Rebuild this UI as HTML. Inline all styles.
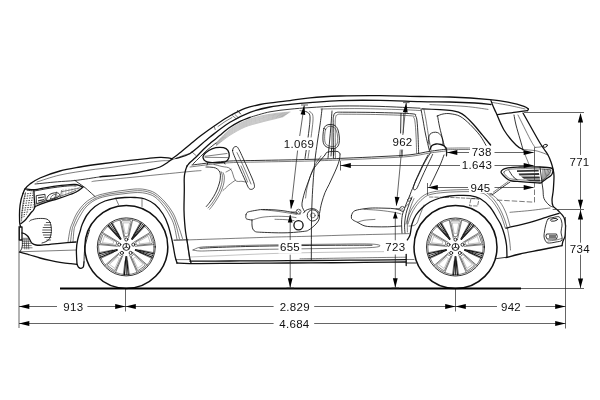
<!DOCTYPE html>
<html lang="de">
<head>
<meta charset="utf-8">
<title>Abmessungen</title>
<style>
html,body{margin:0;padding:0;background:#fff}
body{width:600px;height:400px;overflow:hidden}
svg{display:block;will-change:transform}
svg *{vector-effect:none}
.car path,.car circle,.car ellipse,.whl path,.whl circle{fill:none;stroke:#111;stroke-linecap:round;stroke-linejoin:round}
.b{stroke-width:1.3}
.whl .b{stroke-width:1.55}
.whl .sb{stroke-width:1.15}
.m{stroke-width:.85}
.t{stroke-width:.55}
.h{stroke-width:.35;stroke:#555 !important}
.fk{fill:#111 !important;stroke-width:.3}
.fw{fill:#fff !important}
.hm{stroke-width:.7}
.fg{fill:#777 !important;stroke:none !important}
.fd{fill:#333 !important;stroke:none !important}
.gd{stroke-width:.85;stroke-dasharray:1.5 1.1;stroke:#222 !important;stroke-linecap:butt !important}
.car .ds{stroke-width:.55;stroke-dasharray:3.5 1.8}
.d path,.d circle{fill:none;stroke:#222;stroke-width:.7}
.d .g{stroke:#000;stroke-width:1.9}
.d .ds{stroke-dasharray:5.5 2;stroke-width:.6}
.d .w{fill:#fff}
.a polygon{fill:#000;stroke:none}
.bg rect{fill:#fff;stroke:none}
.tx text{font-family:"Liberation Sans",sans-serif;font-size:11.5px;fill:#111;text-anchor:middle;letter-spacing:.3px}
</style>
</head>
<body>
<svg width="600" height="400" viewBox="0 0 600 400">
<rect width="600" height="400" fill="#fff"/>
<g class="car">
<path class="b" d="M23 193.5C23.3 192.8 23.8 190.6 25 189C26.2 187.4 27.5 185.8 30 184C32.5 182.2 35 180.2 40 178C45 175.8 53.3 172.8 60 171C66.7 169.2 73.3 168.2 80 167C86.7 165.8 91.7 165.1 100 164C108.3 162.9 121.7 161.3 130 160.3C138.3 159.3 145 158.7 150 158.2C155 157.7 157 157.5 160 157.4C163 157.3 166 157.6 168 157.8C170 158 171.3 158.6 172 158.8"/>
<path class="b" d="M172 158.8C173.5 157.7 178 154.4 181 152C184 149.6 186.8 147.1 190 144.5C193.2 141.9 195.8 139.5 200 136.3C204.2 133.1 210 128.9 215 125.5C220 122.1 225 118.6 230 115.8C235 113 240 110.3 245 108.4C250 106.5 255 105.5 260 104.5C265 103.5 270 103 275 102.3C280 101.6 284.2 101.3 290 100.6C295.8 99.8 301.7 98.6 310 97.8C318.3 97 328.3 96.4 340 96C351.7 95.6 366.7 95.5 380 95.6C393.3 95.7 408.3 96.3 420 96.5C431.7 96.7 438.3 96.5 450 97C461.7 97.5 480 98.7 490 99.6C500 100.5 504.3 101.5 510 102.6C515.7 103.7 521 105.3 524 106.3C527 107.3 527.3 108.2 528 108.6"/>
<path class="b" d="M528 108.6C528.1 108.8 528.5 109.3 528.4 109.6C528.3 109.9 527.6 110.4 527.4 110.6"/>
<path class="b" d="M527.4 110.6C525.8 110.8 521.2 111.4 518 111.8C514.8 112.2 511.4 112.7 508 113.2C504.6 113.7 499.2 114.4 497.5 114.6"/>
<path class="t" d="M492 102.4C495 102.9 504.5 104.5 510 105.6C515.5 106.7 522.5 108.4 525 109"/>
<path class="b" d="M176 158.5C178.3 157.7 184.3 157.1 190 153.5C195.7 149.9 203.3 142.2 210 137C216.7 131.8 223.3 126.4 230 122.3C236.7 118.2 243.3 114.8 250 112.3C256.7 109.8 263.3 108.3 270 107C276.7 105.7 283.3 105.1 290 104.4C296.7 103.7 301.7 103.2 310 102.6C318.3 102 328.3 101 340 100.6C351.7 100.2 366.7 100.2 380 100.4C393.3 100.6 408.3 101.3 420 101.6C431.7 101.9 440.8 101.8 450 102C459.2 102.2 468.2 102.6 475 103C481.8 103.4 488.3 104.2 491 104.5"/>
<path class="b" d="M187 166C187.6 165.3 189.2 163.3 190.5 162C191.8 160.7 193.4 159.5 195 158C196.6 156.5 198.3 154.7 200 153C201.7 151.3 203.3 149.6 205 148C206.7 146.4 207.5 145.7 210 143.6C212.5 141.5 216.7 137.9 220 135.2C223.3 132.5 226.7 129.6 230 127.3C233.3 125 236.7 123.1 240 121.4C243.3 119.7 248.3 118 250 117.3"/>
<path class="m" d="M250 117.3C253.3 116.4 263.3 113.1 270 111.8C276.7 110.5 283.3 109.9 290 109.2C296.7 108.5 301.7 108.1 310 107.6C318.3 107.1 328.3 106.2 340 106C351.7 105.8 366.7 106 380 106.4C393.3 106.8 413.3 107.9 420 108.2"/>
<path class="m" d="M193 164C193.8 163.2 196.3 160.7 198 159C199.7 157.3 201.2 155.8 203 154C204.8 152.2 206.8 150.3 209 148.5C211.2 146.7 214.8 143.9 216 143"/>
<path class="t" d="M218 126.5L225 121.6L232 117.5"/>
<path class="t" d="M214.4 127L215.2 129.6"/>
<path class="t" d="M232.5 115.6L236 118.6"/>
<path class="t" d="M235 114.6L238.2 117.6"/>
<path class="m" d="M237.6 110.6L240.6 114"/>
<path class="t" d="M192 152L196 155.5"/>
<path class="b" d="M491 100.6C491.3 101.5 492.2 104 493 106C493.8 108 494.2 108.6 496 112.6C497.8 116.6 500.7 124.6 504 130C507.3 135.4 512.8 141.8 516 145C519.2 148.2 521.8 148.8 523 149.5"/>
<path class="t" d="M523 150C523.5 151.2 525 154.6 526 157C527 159.4 528.5 163.2 529 164.5"/>
<path class="b" d="M523 113C524.5 115.7 529.2 124 532 129C534.8 134 538 139.7 540 143C542 146.3 542.7 147 544 149C545.3 151 546.8 152.8 548 155C549.2 157.2 550.2 159.7 551 162C551.8 164.3 552.5 166.7 553 169C553.5 171.3 554 172.5 554 176C554 179.5 553.6 186 553.3 190C553 194 552 197.3 552 200C552 202.7 552 204.2 553 206C554 207.8 556.2 208.6 558 210.5C559.8 212.4 562.7 214.9 564 217.5C565.3 220.1 565.3 224.6 565.6 226"/>
<path class="m" d="M514 115C514.3 116.7 515 121 516 125C517 129 518.8 134.9 520 139C521.2 143.1 522.5 147.8 523 149.5"/>
<path class="t" d="M518 115C520 119 527.2 133.6 530 139C532.8 144.4 534.2 146 535 147.4"/>
<path class="t" d="M523 149.5C525 149.7 531.8 150.1 535 150.6C538.2 151.1 539.8 151.9 542 152.6C544.2 153.3 547 154.6 548 155"/>
<path class="t" d="M535 147.4C535.8 147.3 538.6 147.2 540 147C541.4 146.8 542.9 146.2 543.5 146"/>
<ellipse class="m" cx="545.3" cy="145.8" rx="2.1" ry="1.4" transform="rotate(-20 545.3 145.8)"/>
<path class="b" d="M565.6 226C565.5 227.7 565.4 233.5 565 236C564.6 238.5 563.5 239.4 563 241C562.5 242.6 562.2 244.8 562 245.6"/>
<path class="b" d="M562 245.6C558.3 246.3 547 248.6 540 250C533 251.4 525.7 252.7 520 254C514.3 255.3 508.3 257 506 257.6"/>
<path class="b" d="M506 228.2C510 227.2 523.3 224.1 530 222.3C536.7 220.5 541.2 218.8 546 217.3C550.8 215.8 556.8 214 559 213.3"/>
<path class="t" d="M510 212.3C513.3 212 523.3 211.2 530 210.5C536.7 209.8 546.7 208.4 550 208"/>
<path class="m" d="M542 183C542.2 184.2 542.7 187.4 543 190C543.3 192.6 543 196 544 198.5C545 201 547.5 203.6 549 205C550.5 206.4 552.3 206.7 553 207"/>
<path class="m" d="M548 219C549.2 217.6 551.2 218 553 217.6C554.8 217.2 557.6 216.2 559 216.8C560.4 217.4 561 219.5 561.5 221C562 222.5 562.1 224.2 562 226C561.9 227.8 561 229.7 561 232C561 234.3 562.8 238.3 562 240C561.2 241.7 558.3 241.5 556 242C553.7 242.5 549.8 243.3 548 243C546.2 242.7 545.7 241.2 545 240C544.3 238.8 544.1 237.5 544 236C543.9 234.5 544.4 232.7 544.6 231C544.9 229.3 544.9 228 545.5 226C546.1 224 546.8 220.4 548 219Z"/>
<ellipse class="m" cx="554" cy="219.8" rx="3.6" ry="1.3" transform="rotate(-8 554 219.8)"/>
<path class="m" d="M547 234L556.5 234L557.3 236.5L556.5 239L547 239L546 236.5Z"/>
<path class="fg" d="M549 235L556 235L556 238L549 238Z"/>
<path class="t" d="M548 241C549.3 240.8 553.8 240.4 556 240C558.2 239.6 560.6 238.8 561.5 238.5"/>
<path class="b" d="M23 193.5C22.7 194.6 21.6 197.2 21 200C20.4 202.8 19.8 206.3 19.6 210C19.4 213.7 19.5 219.2 19.6 222C19.8 224.8 20.4 225.8 20.5 226.5"/>
<path class="b" d="M19.3 227L22 227L22 240L19.3 240Z"/>
<path class="b" d="M25 188.9C26.7 189 31.7 189.8 35 189.6C38.3 189.4 41.2 188.4 45 187.8C48.8 187.2 53.3 186.4 57.5 185.9C61.7 185.4 67.1 184.8 70 184.6C72.9 184.4 73.5 184.4 75 184.5C76.5 184.6 77.7 184.9 79 185.4C80.3 185.9 82.2 187 82.8 187.3"/>
<path class="m" d="M27 190.2C28.3 190.3 32 191 35 190.8C38 190.6 41.2 189.6 45 189C48.8 188.4 53.3 187.6 57.5 187.1C61.7 186.6 66.9 186 70 185.8C73.1 185.6 75 186 76 186"/>
<path class="b" d="M82.8 187.3C81.7 188.1 78.4 190.8 76.2 192C74.1 193.2 73.1 193.3 70 194.5C66.9 195.7 61.7 197.6 57.5 198.9C53.3 200.2 48.8 201.3 45 202.6C41.2 203.9 36.7 205.9 35 206.6"/>
<path class="b" d="M33.9 190.6C34 192 34.1 196.3 34.3 199C34.5 201.7 34.9 205.3 35 206.6"/>
<path class="t" d="M37 204.3C39.2 203.5 45.2 201.3 50 199.6C54.8 197.9 61.7 195.8 66 194.3C70.3 192.8 74.3 191.1 76 190.4"/>
<path class="m" d="M36.6 195.6L45 194.3L45.2 200.6L36.8 203.6Z"/>
<path class="fd" d="M38 197.3L44 196.4L44 197.6L38 198.5Z"/>
<path class="fd" d="M38 200.3L44 199L44 200.2L38 201.6Z"/>
<path class="m" d="M46.6 200.3C46.3 199.6 47.1 197.2 48 196C48.9 194.8 50.5 193.9 52 193.4C53.5 192.9 55.7 192.6 57 192.8C58.3 193 59.6 193.8 59.6 194.6C59.6 195.4 58.6 196.6 57 197.6C55.4 198.6 51.7 199.9 50 200.4C48.3 200.9 46.9 201 46.6 200.3Z"/>
<path class="t" d="M50.6 198.8C50.1 198.5 51.3 196.5 52 195.8C52.7 195.1 54.2 194.5 55 194.4C55.8 194.3 57 194.7 57 195.2C57 195.7 56.1 197 55 197.6C53.9 198.2 51.1 199.1 50.6 198.8Z"/>
<path class="t" d="M61.5 190.6L60.6 197"/>
<path class="t" d="M56.5 192L54.5 199"/>
<path class="h" d="M63 189.6L62.6 196"/>
<path class="h" d="M66 189.2L65.7 194.8"/>
<path class="h" d="M69 188.9L68.8 193.5"/>
<path class="h" d="M72 188.5L71.9 192.2"/>
<path class="h" d="M75 188.2L75 191"/>
<path class="h" d="M78 187.8L78.1 189.8"/>
<path class="t" d="M62 191.6C63.7 191.3 69 190.2 72 189.6C75 189 78.7 188.1 80 187.8"/>
<path class="m" d="M75 180.5C75.6 181 77.1 182.1 78.8 183.2C80.4 184.4 83.1 186.1 85 187.6C86.9 189.1 88.3 190.5 90 192C91.7 193.5 94.2 195.8 95 196.5"/>
<path class="t" d="M37 182C40.8 180.8 51.2 177 60 175C68.8 173 81.8 171.2 90 170C98.2 168.8 102.3 168.6 109 167.7C115.7 166.8 121.5 165.8 130 164.7C138.5 163.6 153.2 161.8 160 161C166.8 160.2 166.5 161.2 170.5 160.2C174.5 159.2 180.8 156.3 184 155.2C187.2 154.1 189 154 190 153.8"/>
<path class="m" d="M35 184C36.7 183.8 41.2 183.4 45 183C48.8 182.6 52.5 182.2 57.5 181.8C62.5 181.3 68.8 181.2 75 180.5C81.2 179.8 90.8 178.2 95 177.6C99.2 177 99.2 176.9 100 176.8"/>
<path class="b" d="M100 176.8C105 176.3 121.8 174.9 130 173.8C138.2 172.7 144.5 171.1 149.5 170C154.5 168.9 157 168.2 160 167C163 165.8 165.5 163.8 167.5 162.5C169.5 161.2 171.2 159.8 172 159.3"/>
<path class="t" d="M92 181.6C93.3 181.4 91.2 181.4 100 180.5C108.8 179.6 130 177.5 145 176C160 174.5 180.7 172.4 190 171.5C199.3 170.6 199.2 170.8 201 170.6"/>
<path class="b" d="M35 206.6C34.8 207.2 34.1 209 33.5 210C32.9 211 32.1 211.5 31.2 212.5C30.4 213.5 29.4 214.9 28.5 216C27.6 217.1 26.9 218.2 26 219.2C25.1 220.2 23.9 221.3 23 222C22.1 222.7 21.1 223.3 20.8 223.6"/>
<path class="t" d="M25.5 192.6C25.1 194.2 23.9 198.8 23.3 202C22.7 205.2 22.3 208.8 22 212C21.7 215.2 21.7 219.5 21.6 221"/>
<path class="gd" d="M24.6 194L33.2 193"/>
<path class="gd" d="M24.2 196.3L33.3 195.3"/>
<path class="gd" d="M23.8 198.7L33.4 197.7"/>
<path class="gd" d="M23.3 201.1L33.5 200.1"/>
<path class="gd" d="M22.9 203.4L33.6 202.4"/>
<path class="gd" d="M22.5 205.8L33.7 204.8"/>
<path class="gd" d="M22.1 208.1L33.5 207.1"/>
<path class="gd" d="M21.7 210.4L31.2 209.4"/>
<path class="gd" d="M21.2 212.8L29 211.8"/>
<path class="gd" d="M21 215.2L26.8 214.2"/>
<path class="gd" d="M21 217.5L24.5 216.5"/>
<path class="m" d="M29.5 221.4C29.8 221.2 29.8 220.5 31.3 220C32.8 219.5 35.7 218.6 38.3 218.5C40.9 218.4 45 218.3 47 219.2C49 220 49.8 221.5 50.5 223.6C51.2 225.7 51.5 229 51.4 231.5C51.2 234 50.5 236.8 49.6 238.5C48.7 240.2 47.3 240.8 46 241.6C44.7 242.3 42.7 242.8 42 243"/>
<path class="hm" d="M46.3 222.5L50.6 222.5"/>
<path class="hm" d="M44.5 225L50.9 225"/>
<path class="hm" d="M43.2 227.5L51.2 227.5"/>
<path class="hm" d="M42.7 230L51.3 230"/>
<path class="hm" d="M42.7 232.5L51.3 232.5"/>
<path class="hm" d="M43.4 235L51.1 235"/>
<path class="hm" d="M44.8 237.5L50.9 237.5"/>
<path class="hm" d="M46.8 240L50.5 240"/>
<path class="b" d="M22 233C22.5 233.2 24 233.4 25 234C26 234.6 27.2 235.5 28 236.5C28.8 237.5 29.3 238.9 30 240C30.7 241.1 31 242.4 32 243.2C33 244 34.3 244.7 36 245C37.7 245.3 39.7 245.3 42 245.2C44.3 245.1 47 244.6 50 244.3C53 244 55.7 243.7 60 243.3C64.3 242.9 73.3 242.2 76 242"/>
<path class="t" d="M22.3 239L29 239"/>
<path class="t" d="M22.3 241.2L29.8 241.2"/>
<path class="t" d="M22.3 243.4L30.5 243.4"/>
<path class="t" d="M22.3 245.6L31.3 245.6"/>
<path class="t" d="M22.3 247.8L32.1 247.8"/>
<path class="t" d="M24 238L24.8 249"/>
<path class="t" d="M26 238L26.8 249"/>
<path class="t" d="M28 238L28.8 249"/>
<path class="t" d="M19.5 251.8L76.5 250"/>
<path class="m" d="M22.3 240C22.3 241 22.5 244.3 22.3 246C22.1 247.7 21.4 249 21 250C20.6 251 19.8 251.7 19.6 252"/>
<path class="b" d="M19.6 252.2C21.3 252.7 26.6 254 30 255C33.4 256 36.7 257.1 40 258C43.3 258.9 46.7 259.7 50 260.4C53.3 261.1 56.7 261.8 60 262.3C63.3 262.8 67.2 263.3 70 263.6C72.8 263.9 75.8 264.2 77 264.3"/>
<path class="b" d="M77 264.3C76.9 261.9 76.3 254.1 76.4 250C76.5 245.9 76.9 243.3 77.6 240C78.3 236.7 79.8 232.5 80.5 230C81.2 227.5 80.9 227.5 82 225C83.1 222.5 84.8 218.1 87 215C89.2 211.9 92 208.8 95 206.5C98 204.2 101.7 202.3 105 201C108.3 199.7 111.7 199.1 115 198.5C118.3 197.9 121.7 197.7 125 197.5C128.3 197.3 131.7 197.2 135 197.5C138.3 197.8 141.7 197.8 145 199C148.3 200.2 152 202 155 204.5C158 207 160.8 210.6 163 214C165.2 217.4 166.5 220.7 168 225C169.5 229.3 170.8 234.8 172 240C173.2 245.2 174.2 252.2 175 256C175.8 259.8 176.7 261.8 177 263"/>
<path class="b" d="M77 264.3C77.2 264.8 77.8 266.6 78.5 267.3C79.2 268 80.2 268.4 81 268.3C81.8 268.2 82.8 268.1 83.3 267C83.8 265.9 83.9 262.8 84 262"/>
<path class="m" d="M84 262C84.1 260 84.2 253.7 84.6 250C85 246.3 85.8 243.3 86.6 240C87.4 236.7 89.1 231.7 89.6 230"/>
<path class="t" d="M68 242C68.3 240 69.3 233 70 230C70.7 227 70.8 226.8 72 224C73.2 221.2 74.8 216.5 77 213C79.2 209.5 82 205.8 85 203C88 200.2 91.7 198.1 95 196.5C98.3 194.9 101.7 194.3 105 193.5C108.3 192.7 111.7 192.2 115 191.6C118.3 191 121.7 190.6 125 190.2C128.3 189.8 131.7 189.1 135 189C138.3 188.9 141.7 188.8 145 189.5C148.3 190.2 151.7 190.9 155 193C158.3 195.1 162 198.7 165 202C168 205.3 170.8 209.2 173 213C175.2 216.8 176.4 220.8 178 225C179.6 229.2 181.8 236.2 182.5 238.5"/>
<path class="t" d="M70.5 242C70.8 240 71.5 232.8 72 230C72.5 227.2 72.5 227.5 73.5 225C74.5 222.5 76.1 218.2 78 215C79.9 211.8 82.2 208.2 85 205.5C87.8 202.8 91.7 200.2 95 198.5C98.3 196.8 101.7 195.9 105 195C108.3 194.1 111.7 193.7 115 193.2C118.3 192.7 121.7 192.4 125 192C128.3 191.6 131.7 190.9 135 190.8C138.3 190.7 141.7 190.5 145 191.2C148.3 191.9 151.7 192.8 155 195C158.3 197.2 162.2 201.2 165 204.5C167.8 207.8 170.2 211.6 172 215C173.8 218.4 174.8 221 176 225C177.2 229 178.9 236.7 179.5 239"/>
<path class="t" d="M73 242C73.2 240 73.6 232.8 74 230C74.4 227.2 74.5 227.3 75.5 225C76.5 222.7 78.2 219 80 216C81.8 213 83.5 209.7 86 207C88.5 204.3 91.8 201.8 95 200C98.2 198.2 101.7 197.4 105 196.5C108.3 195.6 111.7 195.3 115 194.8C118.3 194.3 121.7 194 125 193.6C128.3 193.2 131.7 192.7 135 192.6C138.3 192.5 141.7 192.5 145 193.2C148.3 193.9 151.8 194.8 155 197C158.2 199.2 161.5 203.3 164 206.5C166.5 209.7 168.3 212.9 170 216C171.7 219.1 172.8 221.1 174 225C175.2 228.9 176.5 237.1 177 239.5"/>
<path class="t" d="M116 199L118.5 204.5"/>
<path class="t" d="M142 199L142 206.5"/>
<path class="t" d="M174 240L188 239.6"/>
<path class="t" d="M175.6 259.6L189.6 259.6"/>
<path class="t" d="M187 240L189.6 259.6"/>
<path class="b" d="M187 166C186.8 166.7 186 168.5 185.6 170C185.2 171.5 184.7 173.3 184.5 175C184.3 176.7 184.2 177.5 184.2 180C184.2 182.5 184.3 185 184.3 190C184.3 195 183.9 204.7 184 210C184.1 215.3 184.3 218.3 184.6 222C184.9 225.7 185.1 228.5 185.6 232C186.1 235.5 186.7 238.8 187.4 243C188.1 247.2 189 253.7 189.6 257C190.2 260.3 190.8 262 191 263"/>
<path class="b" d="M177 263C179.2 263.1 181.2 263.5 190 263.6C198.8 263.7 216.7 263.5 230 263.4C243.3 263.3 256.5 263.2 270 263.1C283.5 263 297.7 263 311 262.9C324.3 262.8 336.8 262.7 350 262.6C363.2 262.5 380.7 262.3 390 262.2C399.3 262.1 403.3 262 406 262"/>
<path class="b" d="M190 261.2C196.7 261.2 216.7 261.1 230 261C243.3 260.9 256.5 260.9 270 260.8C283.5 260.7 297.7 260.6 311 260.5C324.3 260.4 336.8 260.3 350 260.2C363.2 260.1 380.7 259.9 390 259.8C399.3 259.7 403.3 259.6 406 259.6"/>
<path class="t" d="M300 258.8C308.3 258.7 335 258.2 350 258C365 257.8 380.7 257.5 390 257.4C399.3 257.3 403.3 257.2 406 257.2"/>
<path class="b" d="M406.2 254.5L406.2 265.5"/>
<path class="m" d="M406.3 263L416 263"/>
<path class="t" d="M406.3 259.5L414 259.5"/>
<path class="t" d="M174 240.4C180.8 240.2 199 239.5 215 239C231 238.5 254 237.7 270 237.2C286 236.7 297.7 236.6 311 236.2C324.3 235.8 338.5 235.3 350 235C361.5 234.7 370.2 234.5 380 234.3C389.8 234.1 404.2 233.7 409 233.6"/>
<path class="t" d="M193 250C194.2 249.6 196.3 247.9 200 247.3C203.7 246.7 206.7 246.7 215 246.4C223.3 246.1 237.5 245.6 250 245.3C262.5 245 276.7 244.8 290 244.6C303.3 244.4 316.7 244.3 330 244.2C343.3 244.1 361.7 243.7 370 244C378.3 244.3 380 245.2 380 245.8C380 246.4 378.3 247.2 370 247.6C361.7 248 343.3 248.2 330 248.4C316.7 248.6 303.3 248.8 290 249C276.7 249.2 262.5 249.3 250 249.6C237.5 249.9 223.3 250.4 215 250.6C206.7 250.8 203.7 251.1 200 251C196.3 250.9 194.2 250.2 193 250"/>
<path class="m" d="M200 248.3C202.5 248.2 206.7 247.8 215 247.5C223.3 247.2 237.5 246.7 250 246.4C262.5 246.1 276.7 245.9 290 245.7C303.3 245.5 316.3 245.4 330 245.3C343.7 245.2 365 245.2 372 245.2"/>
<path class="h" d="M190 257C196.7 256.7 216.7 255.9 230 255.3C243.3 254.7 256.5 254.1 270 253.6C283.5 253.1 297.7 252.9 311 252.6C324.3 252.3 336.8 252.2 350 252C363.2 251.8 380.7 251.7 390 251.6C399.3 251.5 403.3 251.6 406 251.6"/>
<path class="m" d="M322 109C321.7 111.7 320.8 119.5 320 125C319.2 130.5 318.2 136.2 317.4 142C316.6 147.8 315.7 153 315 160C314.3 167 313.6 174.8 313 184C312.4 193.2 311.9 202.2 311.6 215C311.3 227.8 311.4 252.9 311.3 260.5"/>
<path class="m" d="M192 165C197.5 164.4 213.7 162.1 225 161.3C236.3 160.5 245.8 160.7 260 160.4C274.2 160.1 295.8 159.8 310 159.4C324.2 159 333.3 158.7 345 158.2C356.7 157.7 369.2 157.2 380 156.6C390.8 156 401.7 155.7 410 154.8C418.3 153.9 424 152.2 430 151.3C436 150.4 443.3 149.5 446 149.2"/>
<path class="t" d="M190 167C195.8 166.3 213.3 163.8 225 163C236.7 162.2 245.8 162.3 260 162C274.2 161.7 295.8 161.4 310 161C324.2 160.6 333.3 160.3 345 159.8C356.7 159.3 369.2 158.8 380 158.2C390.8 157.6 401.7 157.3 410 156.4C418.3 155.5 424 153.9 430 153C436 152.1 443.3 151.3 446 151"/>
<path class="t" d="M446 148.2C448.3 148.2 456 148 460 148C464 148 468.3 148 470 148"/>
<path class="t" d="M446 149.7C448.3 149.7 456 149.5 460 149.5C464 149.5 468.3 149.5 470 149.5"/>
<path class="h" d="M216 143C218.3 140.7 225.2 132.9 230 129.2C234.8 125.6 240 123.2 245 121C250 118.8 255 117.5 260 116.2C265 115 270 114.2 275 113.5C280 112.8 287.5 112.2 290 112"/>
<path class="h" d="M216.1 143.4C218.4 141.2 225.2 133.8 230 130.2C234.8 126.7 240 124.2 245 122C250 119.8 255 118.5 260 117.2C265 116 270.2 115.1 275 114.4C279.8 113.6 286.5 113.1 288.8 112.8"/>
<path class="h" d="M216.2 143.8C218.5 141.7 225.2 134.7 230 131.2C234.8 127.8 240 125.2 245 123C250 120.8 255 119.6 260 118.3C265 117 270.4 116 275 115.2C279.6 114.5 285.6 113.9 287.7 113.6"/>
<path class="h" d="M216.2 144.2C218.5 142.2 225.2 135.6 230 132.2C234.8 128.9 240 126.2 245 124C250 121.8 255 120.7 260 119.3C265 118 270.6 117 275 116.1C279.4 115.3 284.6 114.7 286.5 114.4"/>
<path class="h" d="M216.3 144.7C218.6 142.8 225.2 136.5 230 133.2C234.8 130 240 127.1 245 125C250 122.9 255 121.7 260 120.4C265 119.1 270.8 117.9 275 117C279.2 116.1 283.6 115.5 285.3 115.2"/>
<path class="h" d="M216.4 145.1C218.7 143.3 225.2 137.4 230 134.2C234.8 131.1 240 128.1 245 126C250 123.9 255 122.8 260 121.5C265 120.1 271 118.8 275 117.9C279 117 282.6 116.3 284.2 116"/>
<path class="h" d="M216.5 145.5C218.8 143.8 225.2 138.3 230 135.2C234.8 132.2 240 129.1 245 127C250 124.9 255 123.9 260 122.5C265 121.1 271.2 119.7 275 118.8C278.8 117.8 281.7 117.1 283 116.8"/>
<path class="m" d="M306 111.6C306.6 112 308.7 112.6 309.4 114C310.1 115.4 310.1 117.3 310 120C309.9 122.7 309.5 125.8 309 130C308.5 134.2 307.7 140.2 307 145C306.3 149.8 305.3 156.2 305 158.5"/>
<path class="t" d="M309.5 111.4C310 111.8 311.8 112.6 312.4 114C313 115.4 313.1 117.3 313 120C312.9 122.7 312.5 125.8 312 130C311.5 134.2 310.7 140.3 310 145C309.3 149.7 308.3 156.1 308 158.3"/>
<path class="t" d="M300 110.6L306 111.6"/>
<path class="m" d="M332 111C331.8 113.3 331.4 119.8 331 125C330.6 130.2 330 136.4 329.5 142C329 147.6 328.2 155.7 328 158.4"/>
<path class="m" d="M333.4 158C333.4 152.5 333.2 132 333.2 125C333.2 118 333.1 118.1 333.6 116C334.1 113.9 334.1 113.2 336 112.6C337.9 112 337.7 112.2 345 112.2C352.3 112.2 368.8 112.3 380 112.6C391.2 112.9 406.1 113.2 412 113.8C417.9 114.4 414.8 114.8 415.6 116C416.4 117.2 416.6 117.8 417 121C417.4 124.2 417.7 129.7 418 135C418.3 140.3 418.5 149.8 418.6 152.8"/>
<path class="t" d="M335.4 157.8C335.4 152.5 335.2 132.7 335.2 126C335.2 119.3 335.2 119.5 335.6 117.6C336 115.7 336 115.2 337.6 114.6C339.2 114 337.9 114.2 345 114.2C352.1 114.2 369 114.3 380 114.6C391 114.9 405.4 115.3 411 115.8C416.6 116.3 413.1 116.6 413.8 117.6C414.5 118.6 414.6 119.1 415 122C415.4 124.9 415.7 129.8 416 135C416.3 140.2 416.5 150 416.6 153"/>
<path class="t" d="M321 109C327.5 108.9 346.8 108.5 360 108.6C373.2 108.7 389.8 109.3 400 109.6C410.2 109.9 417.5 110.4 421 110.6"/>
<path class="t" d="M430 104.6C435.8 104.9 455.3 105.6 465 106.4C474.7 107.2 484.2 108.9 488 109.4"/>
<path class="m" d="M401 113.4L400.6 133"/>
<path class="t" d="M403.6 113.6L403.2 133"/>
<path class="t" d="M400.2 150L399.7 156.6"/>
<path class="t" d="M402.6 150L402.2 156.4"/>
<path class="m" d="M421 109C421.3 110.8 422.2 115.8 423 120C423.8 124.2 424.4 128.8 425.5 134C426.6 139.2 428.8 148.2 429.5 151"/>
<path class="t" d="M424 109.6C424.3 111.3 425.3 115.9 426 120C426.7 124.1 427.4 129 428.2 134C429 139 430.5 147.3 431 150"/>
<path class="b" d="M422 108.8C425 108.9 435 109.3 440 109.6C445 109.9 448.9 110.2 452 110.6C455.1 111 456.3 111.3 458.5 112.2C460.7 113.1 462.5 113.9 465 116C467.5 118.1 470.8 121.5 473.8 124.8C476.7 128 479.7 131.9 482.5 135.2C485.3 138.6 489.2 143.4 490.6 145"/>
<path class="m" d="M437 116C438 115.7 440.8 114.4 443 114C445.2 113.6 447.2 113.3 450 113.7C452.8 114.1 456.7 114.5 460 116.3C463.3 118.1 466.7 121.2 470 124.4C473.3 127.6 477.3 132 480 135.5C482.7 139 485 143.8 486 145.4"/>
<path class="m" d="M437.6 116C437.9 117.8 438.7 122.9 439.6 127C440.5 131.1 442.2 137.2 443 140.5C443.8 143.8 444.3 145.9 444.6 147"/>
<path class="b" d="M203 157.5C202.8 156 204.5 154 206 152.6C207.5 151.2 209.7 149.7 212 148.8C214.3 147.9 217.7 147.4 220 147.4C222.3 147.4 224.5 147.7 226 148.6C227.5 149.5 228.6 151.3 229 153C229.4 154.7 229.3 157.1 228.6 158.6C227.9 160.1 227.1 161.3 225 162C222.9 162.7 219 162.6 216 162.6C213 162.6 209.2 162.7 207 161.8C204.8 161 203.2 159 203 157.5Z"/>
<path class="t" d="M205 156.3L227 153.5"/>
<path class="t" d="M205 157.3L227.6 157.6"/>
<path class="m" d="M208 162.3L207 165"/>
<path class="m" d="M224 162.3L225 164"/>
<path class="m" d="M232.6 150.6C232.7 149.8 232.9 148.3 233.6 147.6C234.3 146.9 235.7 146.3 236.6 146.6C237.5 146.9 237.9 147.7 239 149.6C240.1 151.5 241.5 154.8 243 158C244.5 161.2 246.5 165.7 248 169C249.5 172.3 250.9 175.4 252 178C253.1 180.6 254 182.9 254.3 184.6C254.6 186.3 254.6 187.2 254 188C253.4 188.8 251.9 189.5 251 189.4C250.1 189.3 249.4 189.2 248.4 187.6C247.4 186 246.4 183.1 245 180C243.6 176.9 241.6 172.5 240 169C238.4 165.5 236.8 161.7 235.6 159C234.4 156.3 233.5 154 233 152.6C232.5 151.2 232.5 151.4 232.6 150.6Z"/>
<path class="t" d="M237 152.6C237.7 154 239.5 157.8 241 161C242.5 164.2 244.3 168.2 246 172C247.7 175.8 250.2 182 251 184"/>
<path class="t" d="M214 164.5C215.3 164.8 219.2 165.8 222 166.5C224.8 167.2 228.4 166.7 230.6 169C232.8 171.3 233.4 178.2 235.3 180.3C237.2 182.4 240 181 241.9 181.3C243.8 181.6 245.7 182 246.5 182.2"/>
<path class="t" d="M223 190.6C224 189.7 226.8 186.7 228.8 185C230.9 183.3 234.2 181.1 235.3 180.3"/>
<path class="t" d="M226 172C226.6 171.7 228.9 170.5 229.7 170C230.5 169.5 230.8 169.2 231 169"/>
<path class="t" d="M241 166C241.5 167.2 242.9 170.3 244 173C245.1 175.7 247 180.5 247.6 182"/>
<path class="m" d="M206 167C206.8 167 209.4 167 211 167.2C212.6 167.4 214.3 167.4 215.6 168C216.9 168.6 218.2 169.6 219 170.6C219.8 171.6 220.1 172.6 220.3 173.8C220.5 175 220.5 176.5 220.3 178C220.2 179.5 220 181 219.4 183C218.8 185 217.9 187.8 217 190C216.1 192.2 215 194.3 213.8 196.3C212.6 198.3 211.2 200.3 210 202C208.8 203.7 206.9 205.8 206.3 206.5"/>
<path class="t" d="M221 171.6C221.2 172.2 222.1 173.6 222.3 175C222.5 176.4 222.3 178.4 222.2 180C222 181.6 221.9 182.7 221.4 184.6C220.9 186.5 220 189.4 219 191.6C218 193.8 216.7 195.9 215.5 198C214.3 200.1 212.8 202.3 211.6 204C210.3 205.7 208.6 207.3 208 208"/>
<path class="t" d="M223 172.6C223.2 173.1 224 174.3 224.2 175.6C224.4 176.9 224.4 178.9 224.2 180.6C224 182.3 223.8 183.6 223.2 185.6C222.6 187.6 221.6 190.4 220.6 192.6C219.6 194.8 218.3 196.9 217 199C215.7 201.1 214.2 203.3 213 205C211.8 206.7 210.2 208.6 209.6 209.3"/>
<path class="m" d="M325 155C324 156.2 321 159.5 319 162C317 164.5 314.7 166.8 313 170C311.3 173.2 309.9 177.5 308.6 181C307.3 184.5 306 187.8 305 191C304 194.2 303.1 197.5 302.6 200C302.1 202.5 301.7 204.1 302 206C302.3 207.9 304.2 210.7 304.6 211.6"/>
<path class="t" d="M321 156C319.9 157.7 316.3 162.5 314.5 166C312.7 169.5 311.2 173.3 310 177C308.8 180.7 307.7 184.5 307 188C306.3 191.5 305.8 196.3 305.6 198"/>
<path class="m" d="M340 154C339.9 155 340 157.7 339.4 160C338.8 162.3 337.7 165.3 336.6 168C335.5 170.7 334.3 173.2 333 176C331.7 178.8 330.3 181.8 329 184.6C327.7 187.4 326.2 189.5 325 192.6C323.8 195.7 322.5 199.6 321.6 203C320.7 206.4 319.9 211.3 319.6 213"/>
<path class="m" d="M325 155C325.3 154.6 325.7 152.9 327 152.3C328.3 151.7 331.2 151.5 333 151.4C334.8 151.3 336.8 151.2 338 151.6C339.2 152 339.7 153.6 340 154"/>
<path class="m" d="M324 128.4C324.5 126.8 325 126.3 326 125.6C327 124.9 328.5 124.4 330 124.4C331.5 124.4 333.7 124.7 335 125.6C336.3 126.5 337.3 128.1 338 130C338.7 131.9 339.1 134.7 339.3 137C339.5 139.3 339.5 141.8 339 143.6C338.5 145.4 337.7 146.8 336.5 147.6C335.3 148.4 333.8 148.6 332 148.4C330.2 148.2 327.4 147.6 326 146.6C324.6 145.6 323.8 144.5 323.3 142.6C322.8 140.7 322.9 137.4 323 135C323.1 132.6 323.5 130 324 128.4Z"/>
<path class="t" d="M325.6 129.4C326.1 128.1 326.7 127.7 327.4 127.2C328.1 126.7 328.9 126.2 330 126.2C331.1 126.2 332.9 126.5 334 127.3C335.1 128.1 335.9 129.4 336.5 131C337.1 132.6 337.5 135 337.6 137C337.7 139 337.7 141.5 337.3 143C336.9 144.5 336.3 145.4 335.4 146C334.5 146.6 333.4 146.7 332 146.6C330.6 146.5 328.5 146 327.3 145.2C326.1 144.4 325.4 143.7 325 142C324.6 140.3 324.6 137.1 324.7 135C324.8 132.9 325.2 130.7 325.6 129.4Z"/>
<path class="m" d="M331.6 148.4L331 156"/>
<path class="m" d="M334 148.4L333.6 155.6"/>
<path class="t" d="M332 126L331.8 148"/>
<path class="m" d="M246 214.8C246.2 214.4 246.4 213.1 247 212.6C247.6 212.1 247.9 212 249.4 211.6C250.9 211.2 253.8 210.7 256 210.3C258.2 210 259.4 209.6 262.6 209.5C265.8 209.4 271.3 209.7 275 209.9C278.7 210.2 281.7 210.5 285 211C288.3 211.5 292.5 212.5 295 213C297.5 213.5 299.2 213.8 300 214"/>
<path class="t" d="M262 209.8C264.2 210 270.3 210.4 275 211C279.7 211.6 286.3 212.6 290 213.2C293.7 213.8 295.8 214.3 297 214.5"/>
<path class="m" d="M246 214.8C246 215.4 245.5 217.6 246 218.4C246.5 219.2 248 219.3 249 219.6C250 219.9 251.5 219.9 252 220"/>
<path class="m" d="M252 220C252 220.8 251.9 223.5 252 225C252.1 226.5 252.3 227.9 252.8 229C253.3 230.1 253.9 230.8 255 231.3C256.1 231.8 254.5 231.9 259.5 232.2C264.5 232.4 277.5 233 285 232.8C292.5 232.7 300.5 231.8 304.5 231.3C308.5 230.8 307.8 230.4 309 229.8C310.2 229.2 310.8 228.6 312 227.6C313.2 226.6 314.9 225.3 316 224C317.1 222.7 318.2 221.3 318.8 220C319.4 218.7 319.5 217.3 319.5 216C319.5 214.7 319.3 213.4 318.8 212.4C318.3 211.4 317.5 210.6 316.6 210C315.7 209.4 314.7 208.9 313.5 208.7C312.3 208.5 310.9 208.7 309.6 209C308.4 209.3 307 209.6 306 210.3C305 211 303.9 212.6 303.5 213"/>
<path class="t" d="M252 220C253.7 219.6 258.2 217.9 262 217.3C265.8 216.7 270.7 216.4 275 216.3C279.3 216.2 284.5 216.4 288 216.6C291.5 216.8 294.7 217.4 296 217.6"/>
<path class="t" d="M275 219.3C276.7 219.4 281.8 219.4 285 219.6C288.2 219.8 292.5 220.4 294 220.6"/>
<ellipse class="m" cx="312.8" cy="215.4" rx="5.6" ry="5.6" transform="rotate(0 312.8 215.4)"/>
<ellipse class="t" cx="312.8" cy="215.4" rx="2.4" ry="2.4" transform="rotate(0 312.8 215.4)"/>
<ellipse class="b" cx="298.5" cy="225.2" rx="4.6" ry="4.6" transform="rotate(0 298.5 225.2)"/>
<path class="m" d="M351.5 215.6C351.7 215.1 351.9 213.5 352.6 212.6C353.4 211.7 354.1 210.9 356 210.3C357.9 209.7 361.2 209.2 364 208.8C366.8 208.4 369 208.1 372.5 208C376 207.9 381.2 208.1 385 208.2C388.8 208.3 392.1 208.3 395 208.8C397.9 209.3 401.2 210.6 402.5 211"/>
<path class="t" d="M364 209.3C366.7 209.5 375 209.9 380 210.4C385 210.9 390.5 211.7 394 212.3C397.5 212.9 399.8 213.7 401 214"/>
<path class="m" d="M351.5 215.6C351.5 216.1 351.1 217.7 351.5 218.5C351.9 219.3 353 220 354 220.6C355 221.2 355.7 221.4 357.5 222.3C359.3 223.2 361.9 225.2 365 226C368.1 226.8 372.2 226.7 376 226.8C379.8 226.9 383.3 226.9 387.5 226.8C391.7 226.7 398.8 226.1 401 226"/>
<path class="t" d="M357.5 222.3C358.6 222 361.1 220.8 364 220.3C366.9 219.8 373.2 219.6 375 219.4"/>
<path class="m" d="M430.5 152.8C429.8 154 427.5 157.4 426 160C424.5 162.6 423 165.6 421.6 168.5C420.2 171.4 418.7 174.8 417.4 177.5C416.1 180.2 415 182.7 414 185C413 187.3 412 189.6 411.3 191.4C410.6 193.2 409.9 195.2 409.6 196"/>
<path class="m" d="M428 155C427.2 156.6 424.6 161.2 423 164.4C421.4 167.6 419.9 171.2 418.6 174C417.3 176.8 416.2 178.9 415.4 181C414.6 183.1 413.9 185 413.6 186.4C413.3 187.8 413.4 189.2 413.8 189.6C414.2 190 415.5 189.8 416.3 189C417.1 188.2 417.7 186.6 418.6 184.6C419.6 182.6 420.8 179.7 422 177C423.2 174.3 424.7 171.2 426 168.4C427.3 165.6 428.9 162.3 430 160C431.1 157.7 432.2 155.4 432.6 154.5"/>
<path class="m" d="M444 155C443.5 156.3 442.1 160.3 441 163C439.9 165.7 438.6 168.3 437.3 171C436.1 173.7 434.7 176.5 433.5 179C432.3 181.5 430.6 184.8 430 186"/>
<path class="b" d="M430 149.4C430.3 148.8 431 146.5 432 145.6C433 144.7 434.5 144.2 436 144C437.5 143.8 439.5 144.1 441 144.5C442.5 144.9 444.1 145.7 445 146.6C445.9 147.5 446.2 148.5 446.5 150C446.8 151.5 446.5 154.6 446.5 155.5"/>
<path class="m" d="M429 144C428.9 143 428.4 139.6 428.6 138C428.8 136.4 429.2 135.1 430 134.2C430.8 133.3 432.1 132.7 433.4 132.4C434.7 132.1 436.3 132.1 437.6 132.6C438.9 133.1 440.2 134.4 441 135.6C441.8 136.8 442.3 138.4 442.6 140C442.9 141.6 442.9 144.2 443 145"/>
<path class="m" d="M409.6 196C409.2 197 407.8 200 407 202C406.2 204 405.3 206 404.6 208C403.9 210 403.1 211.7 402.6 214C402.1 216.3 401.7 218.8 401.6 222C401.5 225.2 401.9 231.2 402 233"/>
<path class="m" d="M412 197C411.6 198.1 410.2 201.2 409.4 203.4C408.6 205.6 407.7 207.7 407 210C406.3 212.3 405.8 214.5 405.4 217C405 219.5 404.7 222.3 404.6 225C404.5 227.7 404.9 231.7 405 233"/>
<path class="t" d="M414 198.6C413.5 199.8 411.9 203.4 411 206C410.1 208.6 409.2 211.3 408.6 214C408 216.7 407.6 219 407.4 222C407.2 225 407.4 230.3 407.4 232"/>
<path class="t" d="M402.5 211C403 210.3 404.5 207.8 405.6 206.6C406.7 205.4 408.4 204.1 409 203.6"/>
<ellipse class="t" cx="409.5" cy="199.6" rx="2" ry="1.5" transform="rotate(-30 409.5 199.6)"/>
<path class="b" d="M407.2 240C407.7 239.2 409.2 237.7 410 235C410.8 232.3 411 227.3 412 224C413 220.7 414.3 217.7 416 215C417.7 212.3 419.7 210.2 422 208C424.3 205.8 427 203.7 430 202C433 200.3 436.7 199 440 198C443.3 197 447 196.4 450 196C453 195.6 454.7 195.5 458 195.4C461.3 195.3 466.3 195.1 470 195.6C473.7 196.1 476.7 196.6 480 198.5C483.3 200.4 487.2 203.8 490 207C492.8 210.2 495.2 215 497 218C498.8 221 499.8 222.2 501 225C502.2 227.8 503.6 231.7 504.5 235C505.4 238.3 506.1 241.3 506.5 245C506.9 248.7 506.9 255.2 507 257.2"/>
<path class="m" d="M496.5 258.6L507 257.2"/>
<path class="t" d="M406 224C406.5 222.4 407.7 217.6 409 214.5C410.3 211.4 412 208.3 414 205.5C416 202.7 418.4 199.6 421 197.5C423.6 195.4 425.5 194 429.5 192.8C433.5 191.6 438.8 190.9 445 190.4C451.2 189.9 461.2 189.6 467 189.6C472.8 189.6 476.7 190 480 190.6C483.3 191.2 484.5 191.3 487 193C489.5 194.7 492.5 197.7 495 201C497.5 204.3 500 208.7 502 213C504 217.3 505.8 222.5 507 227C508.2 231.5 508.9 236.2 509.5 240C510.1 243.8 510.3 248.3 510.5 250"/>
<path class="t" d="M408 224C408.5 222.5 409.7 217.9 411 215C412.3 212.1 413.7 209.3 415.6 206.6C417.5 203.9 420.1 201 422.5 199C424.9 197 426.2 195.7 430 194.6C433.8 193.5 438.8 192.9 445 192.4C451.2 191.9 461.2 191.6 467 191.6C472.8 191.6 476.8 192 480 192.6C483.2 193.2 483.8 193.3 486 195C488.2 196.7 491.1 199.4 493.5 202.6C495.9 205.8 498.4 209.8 500.4 214C502.4 218.2 504.5 225.7 505.3 228"/>
<path class="t" d="M484 191C485.2 191.5 488.3 192.2 491 194C493.7 195.8 497.5 198.8 500 202C502.5 205.2 504.3 209 506 213C507.7 217 509.3 223.8 510 226"/>
<path class="t" d="M424 205C423.3 206.7 421.2 212 420 215C418.8 218 418.1 221.2 417 223C415.9 224.8 414.8 225.1 413.5 225.6C412.2 226.1 409.8 225.9 409 226"/>
<path class="m" d="M510 182C508.7 182.9 505 185.4 502 187.6C499 189.8 493.7 193.8 492 195"/>
<path class="t" d="M508 181.6C506.7 182.6 503 185.1 500 187.3C497 189.5 491.7 193.4 490 194.6"/>
<path class="ds" d="M429.5 197L455 197.6L477.5 198.8"/>
<path class="ds" d="M471 198.6L479 198.8L477.6 206L469.4 205.8L471 198.6"/>
<path class="b" d="M501 172C501 171.1 502.2 170.2 503 169.6C503.8 169 504.3 168.7 506 168.3C507.7 167.9 510.7 167.5 513 167.3C515.3 167.1 517.2 167.1 520 167C522.8 166.9 526.7 166.8 530 166.8C533.3 166.8 536.5 166.8 540 167C543.5 167.2 548.8 167.5 551 168C553.2 168.5 552.8 169.2 553 170C553.2 170.8 552.7 172.1 552.4 173C552.1 173.9 552.1 174.4 551 175.4C549.9 176.4 547.5 177.9 546 179C544.5 180.1 543 181.3 542 182C541 182.7 542 182.9 540 183C538 183.1 533.3 182.5 530 182.3C526.7 182.1 523 181.8 520 181.6C517 181.4 513.9 181.3 512 181C510.1 180.7 509.6 180.3 508.6 179.8C507.6 179.3 506.9 178.8 506 178C505.1 177.2 503.8 176 503 175C502.2 174 501 172.9 501 172Z"/>
<path class="t" d="M504 172C504.3 171.3 505.5 170.5 507 170C508.5 169.5 509.2 169.2 513 169C516.8 168.8 524 168.5 530 168.6C536 168.7 545.6 169.2 549 169.6C552.4 170 550.6 170.2 550.6 171C550.6 171.8 550.6 173 549 174.6C547.4 176.2 544.2 179.8 541 180.8C537.8 181.8 534.7 180.7 530 180.4C525.3 180.1 516.7 179.7 513 179.2C509.3 178.7 509.3 178.2 508 177.4C506.7 176.6 505.7 175.3 505 174.4C504.3 173.5 503.7 172.7 504 172Z"/>
<path class="m" d="M540 167L542 182.4"/>
<path class="m" d="M509 170.6C509.7 171.6 511.7 175.1 513 176.6C514.3 178.1 516.3 179.1 517 179.6"/>
<path class="fd" d="M517 170.3L538.6 169.8L538.8 171.6L517 172Z"/>
<path class="fd" d="M518.5 173.4L539 173L539.3 175L519.6 175.4Z"/>
<path class="fd" d="M521 176.6L539.5 176.4L540 178.6L524 178.8Z"/>
<path class="fd" d="M526 179.6L540 179.6L540.3 181.3L530 181.3Z"/>
<path class="t" d="M543 169L542.6 180.6"/>
<path class="t" d="M544.5 169.2L543.8 179.4"/>
<path class="t" d="M546 169.4L545 178.3"/>
<path class="t" d="M547.5 169.6L546.2 177.2"/>
<path class="t" d="M549 169.8L547.4 176"/>
<path class="t" d="M550.5 170L548.6 174.8"/>
</g>
<g class="whl">
<circle cx="126.3" cy="246.9" r="41.5" class="b"/>
<circle cx="126.3" cy="246.9" r="29" class="m"/>
<circle cx="126.3" cy="246.9" r="27.7" class="t"/>
<circle cx="126.3" cy="246.9" r="3.5" class="m"/>
<path d="M126.3 246.9L126.3 243.6" class="m"/>
<path d="M126.3 246.9L129.16 248.55" class="m"/>
<path d="M126.3 246.9L123.44 248.55" class="m"/>
<circle cx="126.3" cy="239.5" r="1.55" class="m"/>
<path d="M124.48 236.05L121.38 221.57L122.63 220.76L129.97 220.76L131.22 221.57L128.12 236.05L126.3 236.5Z" class="t"/>
<path d="M124.96 232.96L122.92 222.84L129.68 222.84L127.64 232.96Z" class="h"/>
<path d="M131.64 238.92L141.13 223.27" class="sb"/>
<path d="M132.24 239.36L144.2 225.5" class="sb"/>
<path d="M133.35 237.19L142.7 224.33" class="m"/>
<path d="M133.47 234.87L140.17 222.69" class="t"/>
<path d="M135.52 236.37L145.04 226.23" class="t"/>
<path d="M124.12 238.17L120 220.03" class="t"/>
<path d="M128.48 238.17L132.6 220.03" class="t"/>
<circle cx="133.34" cy="244.61" r="1.55" class="m"/>
<path d="M136.06 241.82L148.87 234.39L150.03 235.33L152.3 242.32L151.91 243.76L137.18 245.27L136.19 243.69Z" class="t"/>
<path d="M139.14 241.32L148.14 236.25L150.23 242.68L139.97 243.87Z" class="h"/>
<path d="M135.54 249.51L153.36 253.7" class="sb"/>
<path d="M135.31 250.21L152.19 257.31" class="sb"/>
<path d="M137.71 250.61L152.83 255.52" class="m"/>
<path d="M139.95 250L153.61 252.61" class="t"/>
<path d="M139.17 252.42L151.75 258.34" class="t"/>
<path d="M133.93 242.13L149.91 232.6" class="t"/>
<path d="M135.28 246.27L153.8 244.59" class="t"/>
<circle cx="130.65" cy="252.89" r="1.55" class="m"/>
<path d="M134.15 254.61L145.17 264.5L144.64 265.89L138.69 270.21L137.2 270.28L131.21 256.74L132.41 255.31Z" class="t"/>
<path d="M135.58 257.39L143.18 264.38L137.71 268.36L133.41 258.96Z" class="h"/>
<path d="M126.67 256.49L128.2 274.74" class="sb"/>
<path d="M125.93 256.49L124.4 274.74" class="sb"/>
<path d="M126.3 258.9L126.3 274.8" class="m"/>
<path d="M127.57 260.84L129.31 274.64" class="t"/>
<path d="M125.03 260.84L123.29 274.64" class="t"/>
<path d="M133.19 252.69L147.19 264.93" class="t"/>
<path d="M129.67 255.24L137 272.34" class="t"/>
<circle cx="121.95" cy="252.89" r="1.55" class="m"/>
<path d="M121.39 256.74L115.4 270.28L113.91 270.21L107.96 265.89L107.43 264.5L118.45 254.61L120.19 255.31Z" class="t"/>
<path d="M119.19 258.96L114.89 268.36L109.42 264.38L117.02 257.39Z" class="h"/>
<path d="M117.29 250.21L100.41 257.31" class="sb"/>
<path d="M117.06 249.51L99.24 253.7" class="sb"/>
<path d="M114.89 250.61L99.77 255.52" class="m"/>
<path d="M113.43 252.42L100.85 258.34" class="t"/>
<path d="M112.65 250L98.99 252.61" class="t"/>
<path d="M122.93 255.24L115.6 272.34" class="t"/>
<path d="M119.41 252.69L105.41 264.93" class="t"/>
<circle cx="119.26" cy="244.61" r="1.55" class="m"/>
<path d="M115.42 245.27L100.69 243.76L100.3 242.32L102.57 235.33L103.73 234.39L116.54 241.82L116.41 243.69Z" class="t"/>
<path d="M112.63 243.87L102.37 242.68L104.46 236.25L113.46 241.32Z" class="h"/>
<path d="M120.36 239.36L108.4 225.5" class="sb"/>
<path d="M120.96 238.92L111.47 223.27" class="sb"/>
<path d="M119.25 237.19L109.9 224.33" class="m"/>
<path d="M117.08 236.37L107.56 226.23" class="t"/>
<path d="M119.13 234.87L112.43 222.69" class="t"/>
<path d="M117.32 246.27L98.8 244.59" class="t"/>
<path d="M118.67 242.13L102.69 232.6" class="t"/>
<circle cx="455.5" cy="247" r="41.5" class="b"/>
<circle cx="455.5" cy="247" r="29" class="m"/>
<circle cx="455.5" cy="247" r="27.7" class="t"/>
<circle cx="455.5" cy="247" r="3.5" class="m"/>
<path d="M455.5 247L455.5 243.7" class="m"/>
<path d="M455.5 247L458.36 248.65" class="m"/>
<path d="M455.5 247L452.64 248.65" class="m"/>
<circle cx="455.5" cy="239.6" r="1.55" class="m"/>
<path d="M453.68 236.15L450.58 221.67L451.83 220.86L459.17 220.86L460.42 221.67L457.32 236.15L455.5 236.6Z" class="t"/>
<path d="M454.16 233.06L452.12 222.94L458.88 222.94L456.84 233.06Z" class="h"/>
<path d="M460.84 239.02L470.33 223.37" class="sb"/>
<path d="M461.44 239.46L473.4 225.6" class="sb"/>
<path d="M462.55 237.29L471.9 224.43" class="m"/>
<path d="M462.67 234.97L469.37 222.79" class="t"/>
<path d="M464.72 236.47L474.24 226.33" class="t"/>
<path d="M453.32 238.27L449.2 220.13" class="t"/>
<path d="M457.68 238.27L461.8 220.13" class="t"/>
<circle cx="462.54" cy="244.71" r="1.55" class="m"/>
<path d="M465.26 241.92L478.07 234.49L479.23 235.43L481.5 242.42L481.11 243.86L466.38 245.37L465.39 243.79Z" class="t"/>
<path d="M468.34 241.42L477.34 236.35L479.43 242.78L469.17 243.97Z" class="h"/>
<path d="M464.74 249.61L482.56 253.8" class="sb"/>
<path d="M464.51 250.31L481.39 257.41" class="sb"/>
<path d="M466.91 250.71L482.03 255.62" class="m"/>
<path d="M469.15 250.1L482.81 252.71" class="t"/>
<path d="M468.37 252.52L480.95 258.44" class="t"/>
<path d="M463.13 242.23L479.11 232.7" class="t"/>
<path d="M464.48 246.37L483 244.69" class="t"/>
<circle cx="459.85" cy="252.99" r="1.55" class="m"/>
<path d="M463.35 254.71L474.37 264.6L473.84 265.99L467.89 270.31L466.4 270.38L460.41 256.84L461.61 255.41Z" class="t"/>
<path d="M464.78 257.49L472.38 264.48L466.91 268.46L462.61 259.06Z" class="h"/>
<path d="M455.87 256.59L457.4 274.84" class="sb"/>
<path d="M455.13 256.59L453.6 274.84" class="sb"/>
<path d="M455.5 259L455.5 274.9" class="m"/>
<path d="M456.77 260.94L458.51 274.74" class="t"/>
<path d="M454.23 260.94L452.49 274.74" class="t"/>
<path d="M462.39 252.79L476.39 265.03" class="t"/>
<path d="M458.87 255.34L466.2 272.44" class="t"/>
<circle cx="451.15" cy="252.99" r="1.55" class="m"/>
<path d="M450.59 256.84L444.6 270.38L443.11 270.31L437.16 265.99L436.63 264.6L447.65 254.71L449.39 255.41Z" class="t"/>
<path d="M448.39 259.06L444.09 268.46L438.62 264.48L446.22 257.49Z" class="h"/>
<path d="M446.49 250.31L429.61 257.41" class="sb"/>
<path d="M446.26 249.61L428.44 253.8" class="sb"/>
<path d="M444.09 250.71L428.97 255.62" class="m"/>
<path d="M442.63 252.52L430.05 258.44" class="t"/>
<path d="M441.85 250.1L428.19 252.71" class="t"/>
<path d="M452.13 255.34L444.8 272.44" class="t"/>
<path d="M448.61 252.79L434.61 265.03" class="t"/>
<circle cx="448.46" cy="244.71" r="1.55" class="m"/>
<path d="M444.62 245.37L429.89 243.86L429.5 242.42L431.77 235.43L432.93 234.49L445.74 241.92L445.61 243.79Z" class="t"/>
<path d="M441.83 243.97L431.57 242.78L433.66 236.35L442.66 241.42Z" class="h"/>
<path d="M449.56 239.46L437.6 225.6" class="sb"/>
<path d="M450.16 239.02L440.67 223.37" class="sb"/>
<path d="M448.45 237.29L439.1 224.43" class="m"/>
<path d="M446.28 236.47L436.76 226.33" class="t"/>
<path d="M448.33 234.97L441.63 222.79" class="t"/>
<path d="M446.52 246.37L428 244.69" class="t"/>
<path d="M447.87 242.23L431.89 232.7" class="t"/>
</g>
<g class="d">
<path d="M60 288.5H521" class="g"/>
<path d="M521 288.5H584"/>
<path d="M19 226V328"/>
<path d="M565.5 217V328.5"/>
<path d="M125.5 289V311.5"/>
<path d="M455.5 289V311.5"/>
<path d="M19 306.5H57M87.4 306.5H126M126 306.5H273.6M314.2 306.5H455M455 306.5H497M525.6 306.5H565.5"/>
<path d="M19 323.5H273.6M314.2 323.5H565.5"/>
<path d="M524 112.5H584M552.7 209.5H584"/>
<path d="M580.5 114V155M580.5 168V209M580.5 210V242.7M580.5 254.7V288"/>
<path d="M301 105H308"/>
<path d="M304.2 105.5L299.7 136M297.6 150.5L291 208.5"/>
<path d="M290.6 212H299"/>
<circle cx="298.6" cy="211.6" r="2.4" class="w"/>
<path d="M296.9 209.9L300.3 213.3M300.3 209.9L296.9 213.3" style="stroke-width:.4"/>
<path d="M290.2 215V240M290.2 254.7V287.5"/>
<path d="M286.5 288H294"/>
<path d="M403 102.6H409.6"/>
<path d="M406.2 103L402.8 135M401.7 149.5L396.4 205.5"/>
<path d="M395.6 208.7H402"/>
<circle cx="402.3" cy="208.8" r="2.4" class="w"/>
<path d="M400.6 207.1L404 210.5M404 207.1L400.6 210.5" style="stroke-width:.4"/>
<path d="M395.3 212V240.5M395.3 254.5V287.5"/>
<path d="M391.5 288H399"/>
<path d="M447 152.5H469M494.5 152.5H533.6"/>
<path d="M446.5 147.5V156.5"/>
<path d="M340 165.5H460M494.5 165.5H533.6"/>
<path d="M340.5 161V170.5"/>
<path d="M427.5 187.5H468M494.5 187.5H533.6"/>
<path d="M427.5 183V195"/>
<path d="M534.5 147.5V167"/>
<path d="M534.5 167V202.2L496 200" class="ds"/>
</g>
<g class="a">
<polygon points="19,306.5 29.3,304 29.3,309"/>
<polygon points="125.5,306.5 115.2,309 115.2,304"/>
<polygon points="125.5,306.5 135.8,304 135.8,309"/>
<polygon points="455.5,306.5 445.2,309 445.2,304"/>
<polygon points="455.5,306.5 465.8,304 465.8,309"/>
<polygon points="565.5,306.5 555.2,309 555.2,304"/>
<polygon points="19,323.5 29.3,321 29.3,326"/>
<polygon points="565.5,323.5 555.2,326 555.2,321"/>
<polygon points="580.5,113 583.1,122.5 577.9,122.5"/>
<polygon points="580.5,209.2 577.9,199.7 583.1,199.7"/>
<polygon points="580.5,210 583.1,219.5 577.9,219.5"/>
<polygon points="580.5,288 577.9,278.5 583.1,278.5"/>
<polygon points="304.3,105.2 305.29,114.95 300.54,114.25"/>
<polygon points="291,209 289.63,199.79 294.4,200.33"/>
<polygon points="290.2,214.6 292.6,222.6 287.8,222.6"/>
<polygon points="290.2,287.8 287.8,278.3 292.6,278.3"/>
<polygon points="406.3,102.8 407.68,112.5 402.91,111.99"/>
<polygon points="396.3,206 394.76,196.81 399.54,197.27"/>
<polygon points="395.3,211.4 397.7,218.4 392.9,218.4"/>
<polygon points="395.3,287.8 392.9,278.3 397.7,278.3"/>
<polygon points="447,152.5 457.3,150 457.3,155"/>
<polygon points="534,152.5 523.7,155 523.7,150"/>
<polygon points="340.5,165.5 350.8,163 350.8,168"/>
<polygon points="534,165.5 523.7,168 523.7,163"/>
<polygon points="427.5,187.5 437.8,185 437.8,190"/>
<polygon points="534,187.5 523.7,190 523.7,185"/>
</g>
<g class="bg">
<rect x="283.5" y="137.5" width="31" height="12.5"/>
<rect x="278.5" y="241" width="23" height="12.5"/>
<rect x="391.5" y="135.5" width="22" height="12.5"/>
<rect x="384" y="240.5" width="23" height="12.5"/>
<rect x="470" y="146.5" width="23.5" height="11.5"/>
<rect x="461" y="160" width="32.5" height="11"/>
<rect x="469" y="181.5" width="24" height="11.5"/>
</g>
<g class="tx">
<text x="73.4" y="311">913</text>
<text x="294.8" y="311">2.829</text>
<text x="511" y="311">942</text>
<text x="294.4" y="328">4.684</text>
<text x="579.5" y="166">771</text>
<text x="579.8" y="252.8">734</text>
<text x="299" y="147.7">1.069</text>
<text x="290" y="251.2">655</text>
<text x="402.5" y="145.8">962</text>
<text x="395.4" y="250.6">723</text>
<text x="481.7" y="156.4">738</text>
<text x="477" y="169.4">1.643</text>
<text x="480.5" y="191.5">945</text>
</g>
</svg>
</body>
</html>
